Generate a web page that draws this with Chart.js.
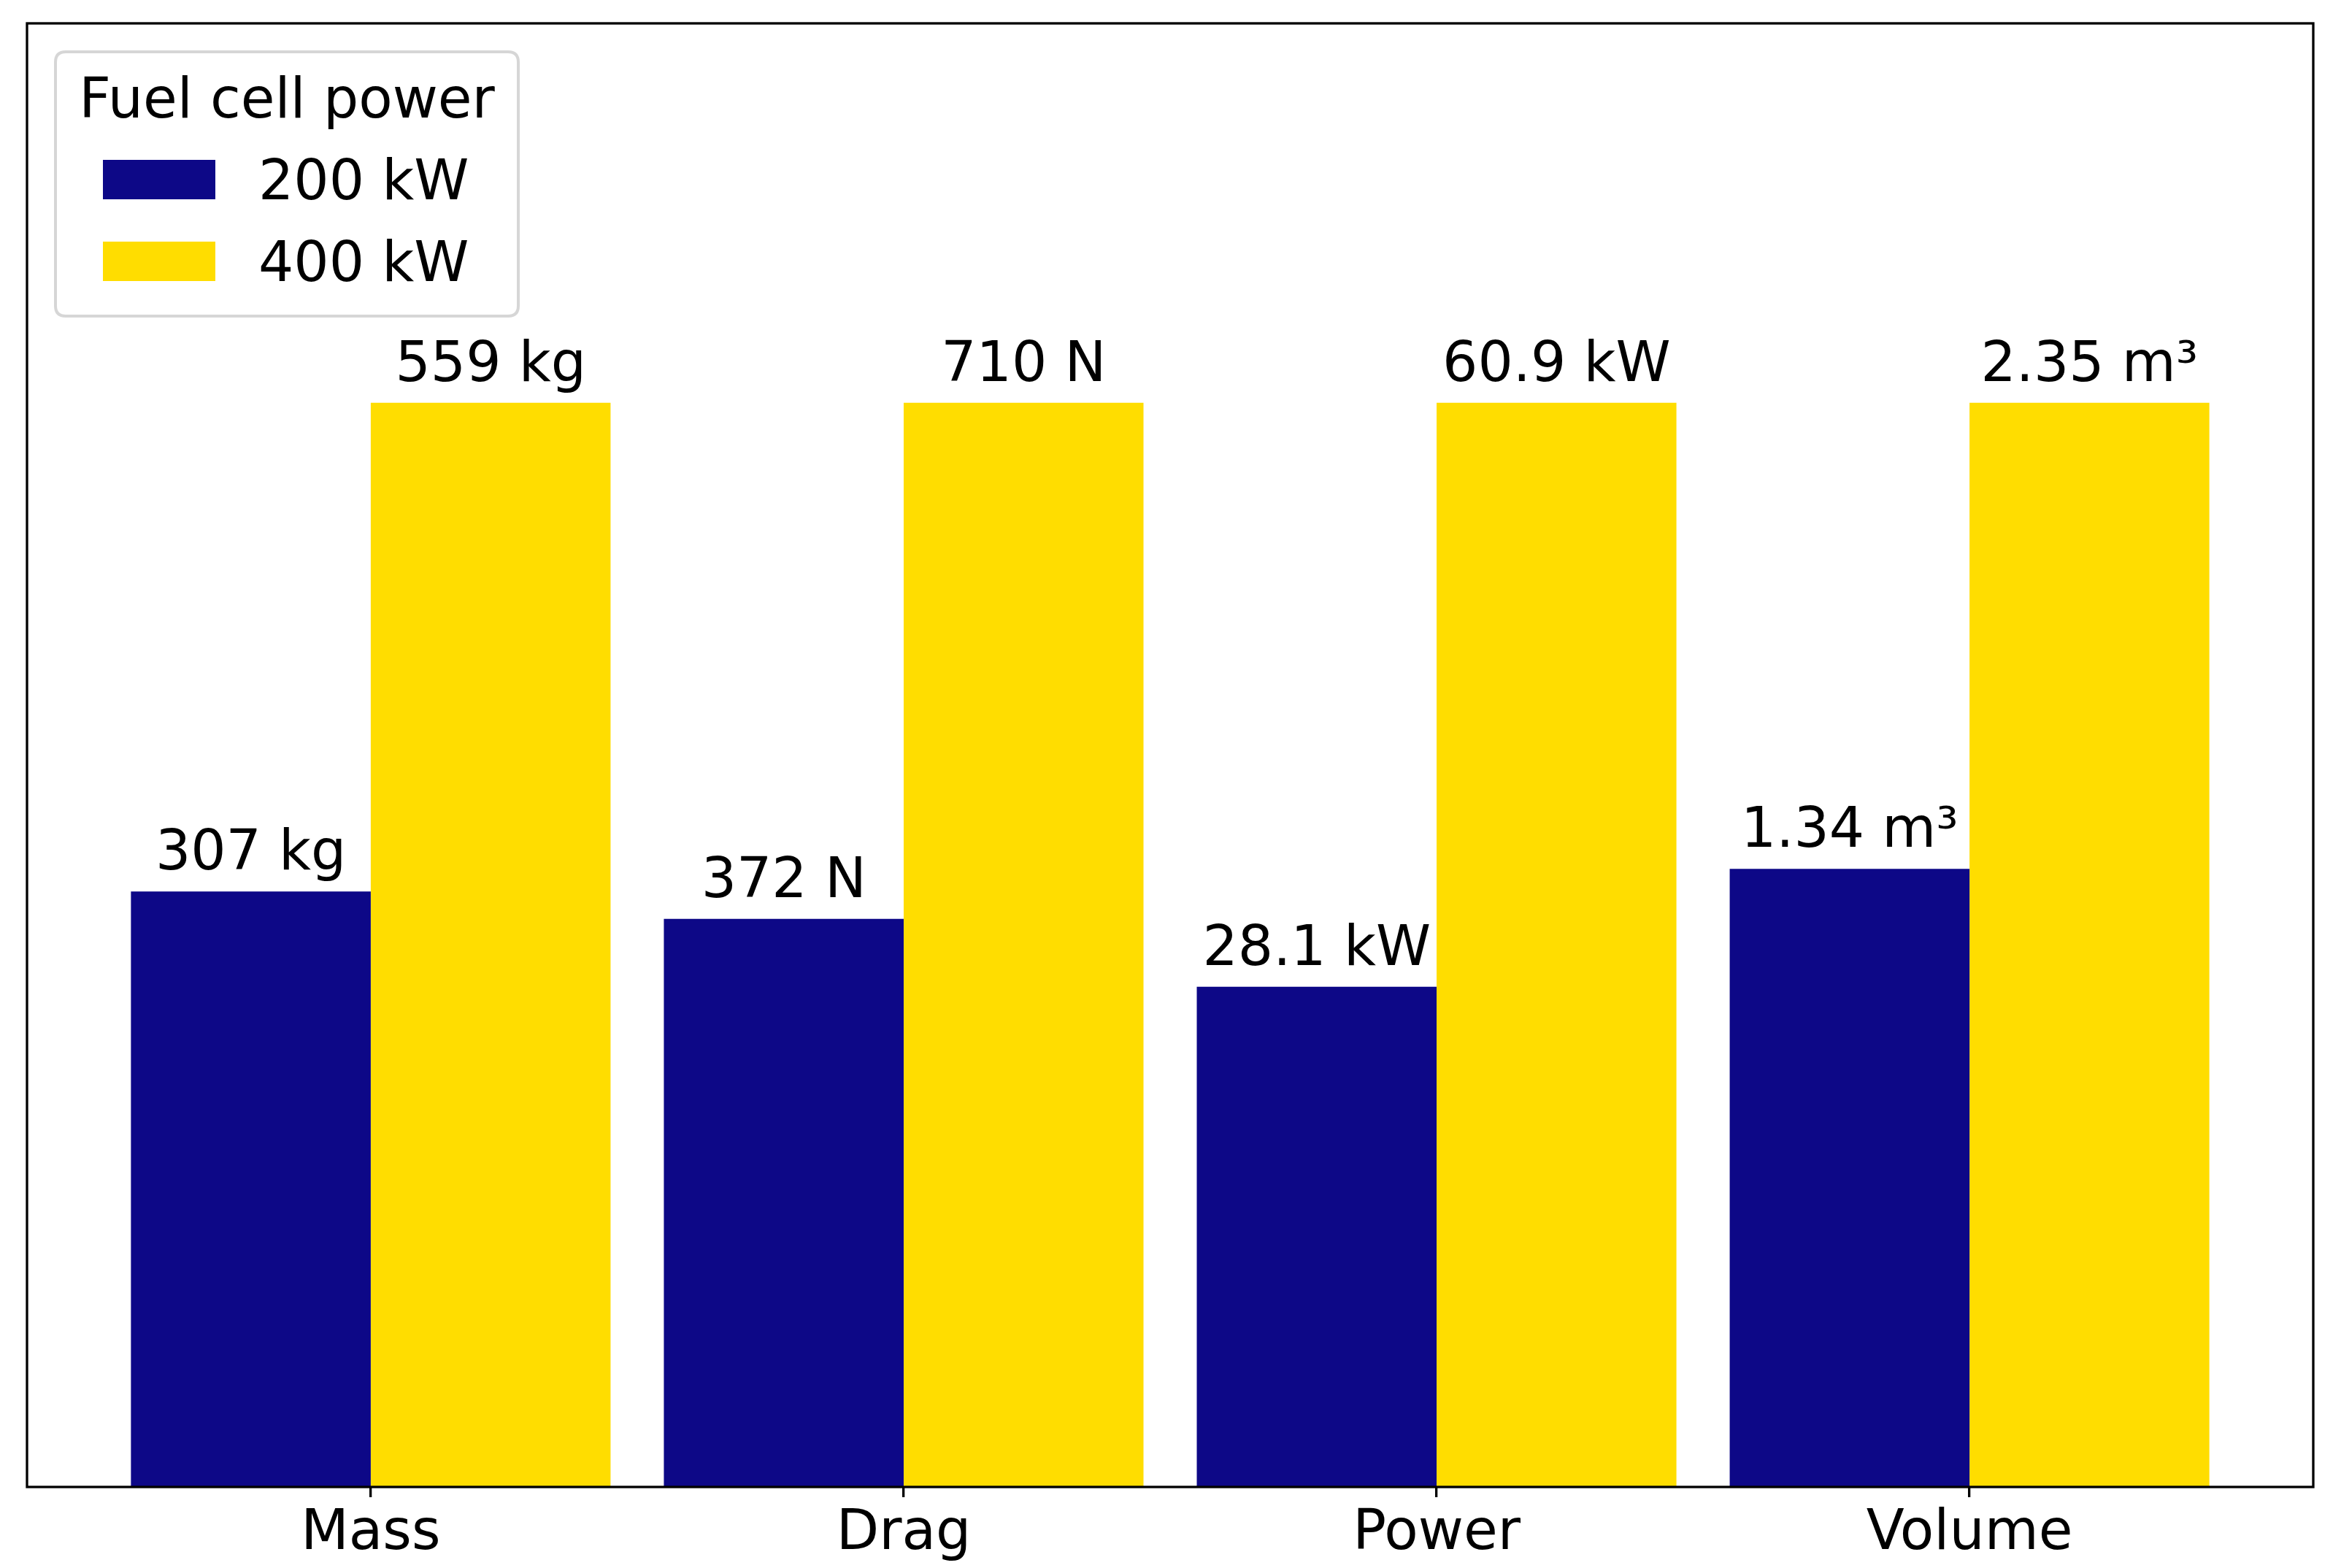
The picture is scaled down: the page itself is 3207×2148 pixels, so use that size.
<!DOCTYPE html>
<html>
<head>
<meta charset="utf-8">
<script src="https://cdn.jsdelivr.net/npm/chart.js@4/dist/chart.umd.min.js"></script>
<style>
  html, body { margin: 0; padding: 0; background: #ffffff; }
  #wrap { width: 3207px; height: 2148px; }
</style>
</head>
<body>
<div id="wrap"><canvas id="c" width="3207" height="2148"></canvas></div>
<script>
// ---- data ----
const categories = ['Mass', 'Drag', 'Power', 'Volume'];
const units = ['kg', 'N', 'kW', 'm³'];
const seriesNames = ['200 kW', '400 kW'];
const values200 = [307, 372, 28.1, 1.34];
const values400 = [559, 710, 60.9, 2.35];
const legendTitle = 'Fuel cell power';
const colors = ['#0D0887', '#FFDD00'];

// normalised heights (each category relative to its largest value)
const rel200 = values200.map((v, i) => v / Math.max(v, values400[i]));
const rel400 = values400.map((v, i) => v / Math.max(v, values200[i]));
const labels200 = values200.map((v, i) => v + ' ' + units[i]);
const labels400 = values400.map((v, i) => v + ' ' + units[i]);

const FONT = 'DejaVu Sans';
const FS = 76;

const barLabelPlugin = {
  id: 'barLabels',
  afterDatasetsDraw(chart) {
    const ctx = chart.ctx;
    ctx.save();
    ctx.font = FS + 'px "' + FONT + '"';
    ctx.fillStyle = '#000000';
    ctx.textAlign = 'center';
    ctx.textBaseline = 'alphabetic';
    chart.data.datasets.forEach((ds, di) => {
      const meta = chart.getDatasetMeta(di);
      meta.data.forEach((bar, i) => {
        ctx.fillText(ds.barLabels[i], bar.x, bar.y - 30);
      });
    });
    ctx.restore();
  }
};

const framePlugin = {
  id: 'frame',
  afterDraw(chart) {
    const a = chart.chartArea;
    const ctx = chart.ctx;
    ctx.save();
    ctx.strokeStyle = '#000000';
    ctx.lineWidth = 3.3;
    ctx.strokeRect(a.left, a.top, a.right - a.left, a.bottom - a.top);

    // legend (inside axes, upper left)
    const lx = a.left + 39, ly = a.top + 39, lw = 634, lh = 362, r = 14;
    ctx.beginPath();
    ctx.moveTo(lx + r, ly);
    ctx.lineTo(lx + lw - r, ly);
    ctx.quadraticCurveTo(lx + lw, ly, lx + lw, ly + r);
    ctx.lineTo(lx + lw, ly + lh - r);
    ctx.quadraticCurveTo(lx + lw, ly + lh, lx + lw - r, ly + lh);
    ctx.lineTo(lx + r, ly + lh);
    ctx.quadraticCurveTo(lx, ly + lh, lx, ly + lh - r);
    ctx.lineTo(lx, ly + r);
    ctx.quadraticCurveTo(lx, ly, lx + r, ly);
    ctx.closePath();
    ctx.fillStyle = 'rgba(255,255,255,0.8)';
    ctx.fill();
    ctx.strokeStyle = 'rgba(204,204,204,0.8)';
    ctx.lineWidth = 4;
    ctx.stroke();

    ctx.font = FS + 'px "' + FONT + '"';
    ctx.fillStyle = '#000000';
    ctx.textAlign = 'center';
    ctx.textBaseline = 'alphabetic';
    ctx.fillText(legendTitle, lx + lw / 2, ly + 90);

    ctx.textAlign = 'left';
    chart.data.datasets.forEach((ds, di) => {
      const hy = ly + 148 + di * 112;
      ctx.fillStyle = ds.backgroundColor;
      ctx.fillRect(lx + 65, hy, 154, 54);
      ctx.fillStyle = '#000000';
      ctx.fillText(ds.label, lx + 278, hy + 54);
    });
    ctx.restore();
  }
};

const chart = new Chart(document.getElementById('c'), {
  type: 'bar',
  data: {
    datasets: [
      {
        label: seriesNames[0],
        data: rel200.map((v, i) => ({ x: i, y: v })),
        backgroundColor: colors[0],
        barLabels: labels200,
        categoryPercentage: 0.9,
        barPercentage: 1.0
      },
      {
        label: seriesNames[1],
        data: rel400.map((v, i) => ({ x: i, y: v })),
        backgroundColor: colors[1],
        barLabels: labels400,
        categoryPercentage: 0.9,
        barPercentage: 1.0
      }
    ]
  },
  options: {
    responsive: false,
    animation: false,
    devicePixelRatio: 1,
    layout: { padding: { left: 37, right: 38, top: 32, bottom: 0 } },
    plugins: { legend: { display: false }, tooltip: { enabled: false } },
    scales: {
      x: {
        type: 'linear',
        offset: false,
        bounds: 'data',
        min: -0.645,
        max: 3.645,
        afterBuildTicks(scale) {
          scale.ticks = categories.map((c, i) => ({ value: i }));
        },
        afterFit(scale) { scale.height = 111; },
        border: { display: false },
        grid: {
          display: true,
          offset: false,
          drawOnChartArea: false,
          drawTicks: true,
          tickLength: 14,
          color: '#000000',
          lineWidth: 3.3
        },
        ticks: {
          autoSkip: false,
          maxRotation: 0,
          padding: 6,
          color: '#000000',
          font: { family: FONT, size: FS },
          callback: (v) => categories[v]
        }
      },
      y: {
        display: false,
        min: 0,
        max: 1.35
      }
    }
  },
  plugins: [barLabelPlugin, framePlugin]
});
</script>
</body>
</html>
